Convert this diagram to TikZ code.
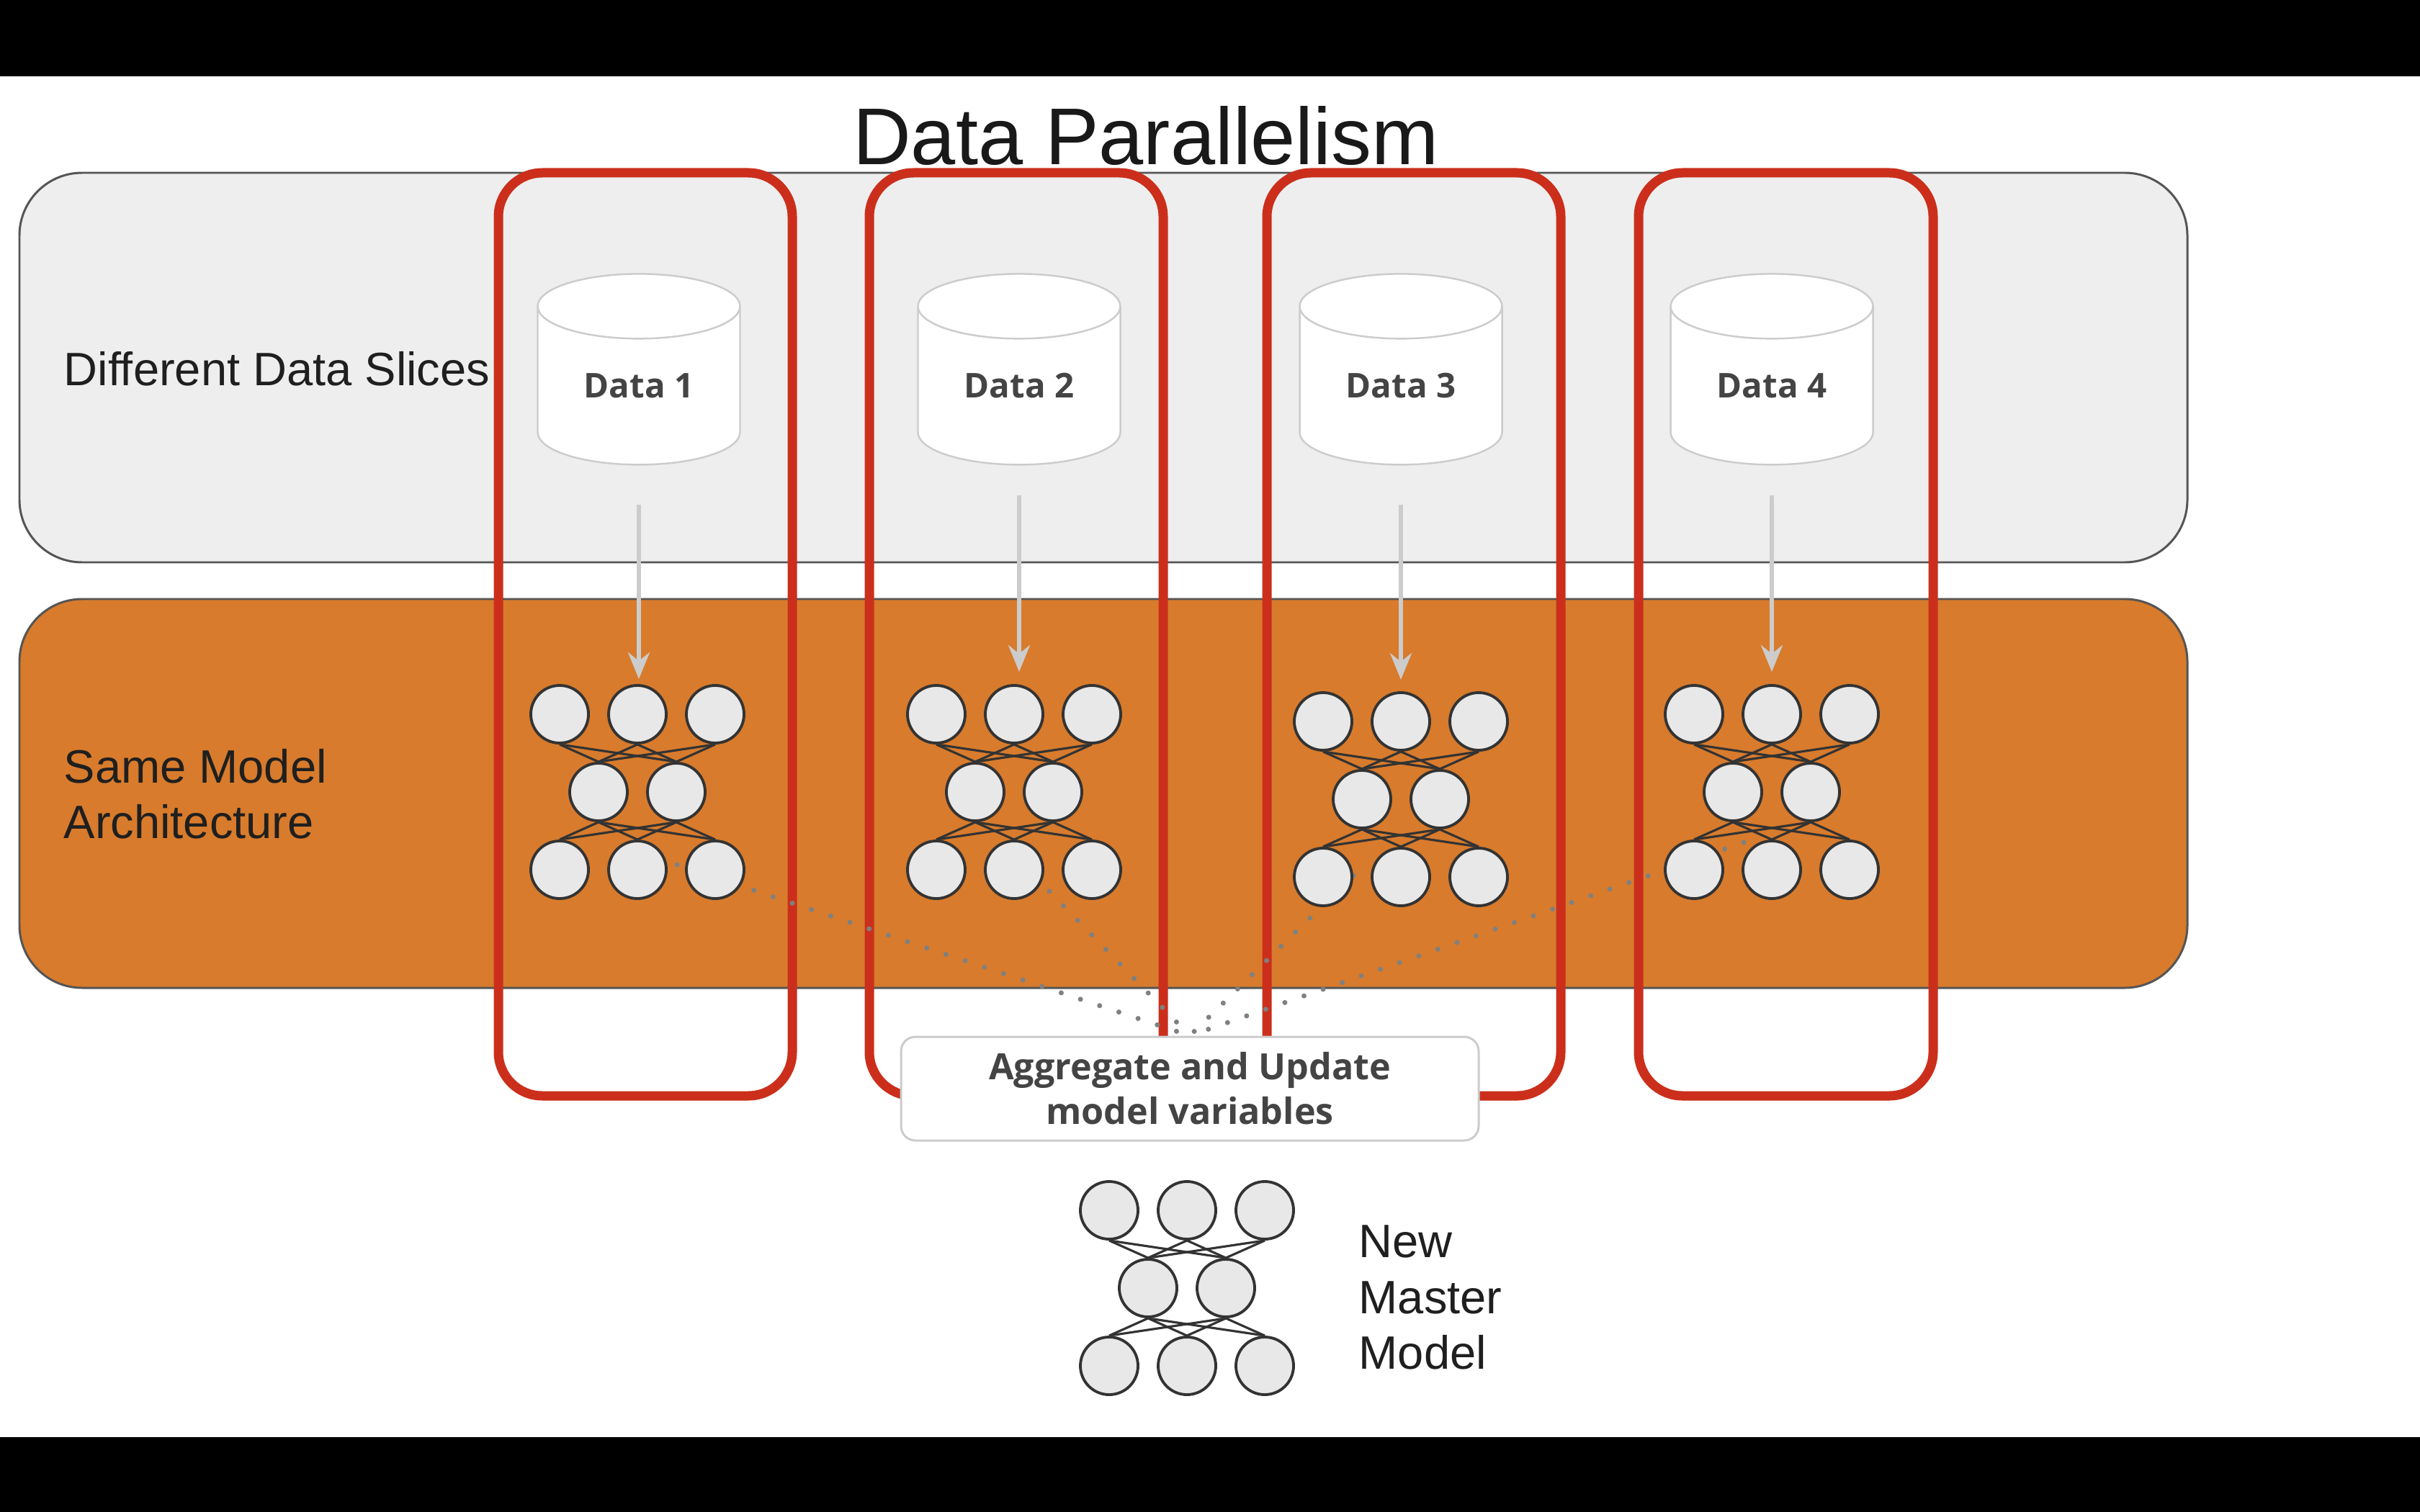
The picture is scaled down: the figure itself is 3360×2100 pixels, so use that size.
\documentclass[tikz,border=0pt]{standalone}
\usepackage{fontspec}
\usepackage{xcolor}
\usepackage{tikz}
\usetikzlibrary{shapes.geometric,arrows.meta}
\setmainfont{Liberation Sans}
\newfontfamily\gfont{Open Sans}
\definecolor{panelgrey}{RGB}{238, 238, 238}
\definecolor{panelorange}{RGB}{216, 123, 44}
\definecolor{panelline}{RGB}{85, 85, 85}
\definecolor{boxred}{RGB}{203, 47, 28}
\definecolor{softline}{RGB}{204, 204, 204}
\definecolor{unitfill}{RGB}{232, 232, 232}
\definecolor{unitline}{RGB}{51, 51, 51}
\definecolor{dotgrey}{RGB}{128, 128, 128}
\definecolor{labelgrey}{RGB}{68, 68, 68}

\begin{document}
\begin{tikzpicture}[x=0.1mm,y=-0.1mm,
  panel/.style={draw=panelline,line width=0.85pt,rounded corners=0.87cm},
  redbox/.style={draw=boxred,line width=3.7pt,rounded corners=0.61cm},
  datadb/.style={cylinder,shape border rotate=90,aspect=0.59,draw=softline,line width=0.7pt,fill=white,
    minimum width=2.81cm,minimum height=2.65cm,inner sep=0pt,text=labelgrey,font=\gfont\bfseries\fontsize{13.5}{16}\selectfont},
  unit/.style={circle,draw=unitline,fill=unitfill,line width=1.1pt,minimum size=0.8cm,inner sep=0pt},
  wire/.style={draw=unitline,line width=0.9pt},
  feed/.style={draw=softline,line width=1.6pt,-{Stealth[length=3.7mm,width=3mm]}},
  dots/.style={draw=dotgrey,line width=2pt,line cap=round,dash pattern=on 0pt off 8pt},
  sidelabel/.style={anchor=west,align=left,inner sep=0pt,font=\fontsize{18.5}{22}\selectfont,text=black!88}]
\useasboundingbox (0,0) rectangle (3360,2100);
\fill[white] (0,0) rectangle (3360,2100);
\fill[black] (0,0) rectangle (3360,106);
\fill[black] (0,1996) rectangle (3360,2100);
\node[font=\fontsize{31.8}{38}\selectfont,text=black!90] (title) at (1591,189) {Data Parallelism};
% two bands
\draw[panel,fill=panelgrey] (27,240) rectangle (3037,781);
\draw[panel,fill=panelorange] (27,832) rectangle (3037,1372);
\node[sidelabel] (slices) at (88,512) {Different Data Slices};
\node[sidelabel] (same) at (88,1103) {Same Model\\Architecture};
% red frames
\draw[redbox] (692,240) rectangle (1100,1522);
\draw[redbox] (1207,240) rectangle (1615,1522);
\draw[redbox] (1759,240) rectangle (2167,1522);
\draw[redbox] (2275,240) rectangle (2684,1522);
\node[draw=softline,line width=0.85pt,fill=white,rounded corners=0.2cm,minimum width=8.02cm,minimum height=1.44cm,
  align=center,text=labelgrey,font=\gfont\bfseries\fontsize{14.3}{17.6}\selectfont] (agg) at (1652,1512) {Aggregate and Update\\model variables};
\coordinate (s1) at (940,1201);
\coordinate (s2) at (1457,1238);
\coordinate (s3) at (1879,1216);
\coordinate (s4) at (2421,1170);
\foreach \k in {1,2,3,4} \draw[dots] (s\k) -- (agg.north);
% data slices
\foreach \k/\x in {1/887,2/1415,3/1945,4/2460}
  \node[datadb] (d\k) at (\x,536) {Data \k};
% small networks, m is the master one
\foreach \k/\x/\y in {1/885/1100,2/1408/1100,3/1945/1110,4/2460/1100,m/1648/1789}{
  \foreach \i/\dx in {1/-108,2/0,3/108}{
    \node[unit] (top\k\i) at (\x+\dx,\y-108) {};
    \node[unit] (low\k\i) at (\x+\dx,\y+108) {};
  }
  \node[unit] (mid\k1) at (\x-54,\y) {};
  \node[unit] (mid\k2) at (\x+54,\y) {};
  \foreach \i in {1,2,3} \foreach \j in {1,2}{
    \draw[wire] (top\k\i.south) -- (mid\k\j.north);
    \draw[wire] (mid\k\j.south) -- (low\k\i.north);
  }
}
% feed arrows
\foreach \k/\g/\e in {1/54/7,2/41/17,3/54/16,4/41/17}
  \draw[feed,shorten <=\g*0.1mm,shorten >=\e*0.1mm] (d\k.south) -- (d\k.south |- top\k2.north);
\node[sidelabel] (master) at (1886,1802) {New\\Master\\Model};
\end{tikzpicture}
\end{document}
